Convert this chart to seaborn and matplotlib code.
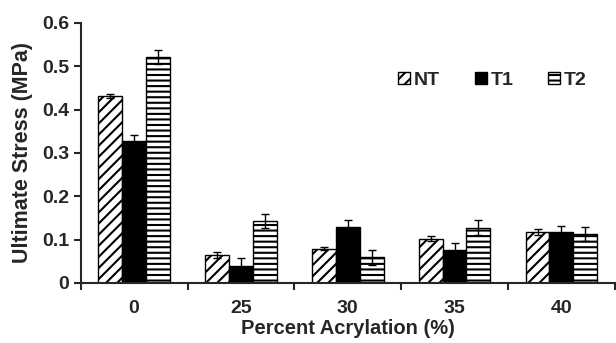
import numpy as np
import pandas as pd
import seaborn as sns
import matplotlib.pyplot as plt
from matplotlib.patches import Patch

# data
acrylation = ["0", "25", "30", "35", "40"]
groups = ["NT", "T1", "T2"]
nt = [0.432, 0.064, 0.079, 0.102, 0.117]
t1 = [0.327, 0.040, 0.130, 0.075, 0.117]
t2 = [0.522, 0.144, 0.059, 0.128, 0.114]
nt_err = [0.004, 0.007, 0.004, 0.006, 0.007]
t1_err = [0.015, 0.017, 0.015, 0.017, 0.015]
t2_err = [0.016, 0.016, 0.017, 0.017, 0.016]

df = pd.DataFrame({
    "acrylation": acrylation * 3,
    "group": ["NT"] * 5 + ["T1"] * 5 + ["T2"] * 5,
    "stress": nt + t1 + t2,
    "err": nt_err + t1_err + t2_err,
})

sns.set_style("ticks")
plt.rcParams["font.family"] = ["Liberation Sans", "DejaVu Sans"]
plt.rcParams["font.weight"] = "bold"
plt.rcParams["hatch.linewidth"] = 1.5

fig, ax = plt.subplots(figsize=(6.16, 3.43), dpi=100)
fig.subplots_adjust(left=0.131, right=0.998, bottom=0.175, top=0.933)

colors = {"NT": "white", "T1": "black", "T2": "white"}
sns.barplot(data=df, x="acrylation", y="stress", hue="group", hue_order=groups,
            palette=colors, edgecolor="black", linewidth=1.0, width=0.67,
            errorbar=None, legend=False, ax=ax)

hatches = {"NT": "///", "T1": "", "T2": "---"}
for cont, g in zip(ax.containers, groups):
    errs = df[df["group"] == g]["err"].values
    vals = df[df["group"] == g]["stress"].values
    xs = []
    for p in cont.patches:
        p.set_hatch(hatches[g])
        xs.append(p.get_x() + p.get_width() / 2)
    ax.errorbar(xs, vals, yerr=errs, fmt="none", ecolor="black",
                elinewidth=1.0, capsize=3, capthick=1.0)

ax.set_ylim(0, 0.6)
ax.set_xlim(-0.5, 4.5)
ax.set_yticks(np.arange(0, 0.61, 0.1))
ax.set_yticklabels(["0", "0.1", "0.2", "0.3", "0.4", "0.5", "0.6"])
ax.set_xticks(np.arange(-0.5, 5, 1.0), minor=True)
ax.tick_params(axis="x", which="major", length=0, labelsize=14, pad=12)
ax.tick_params(axis="x", which="minor", length=5, width=1.5, direction="out")
ax.tick_params(axis="y", length=5, width=1.5, labelsize=14)
for lab in ax.get_xticklabels() + ax.get_yticklabels():
    lab.set_fontweight("bold")
ax.spines["left"].set_linewidth(1.5)
ax.spines["bottom"].set_linewidth(1.5)
sns.despine(ax=ax)

ax.set_xlabel("Percent Acrylation (%)", fontsize=14.5, fontweight="bold", labelpad=2)
ax.set_ylabel("Ultimate Stress (MPa)", fontsize=15.5, fontweight="bold", labelpad=6)

handles = [Patch(facecolor=colors[g], edgecolor="black", hatch=hatches[g], label=g)
           for g in groups]
ax.legend(handles=handles, loc="upper right", bbox_to_anchor=(0.98, 0.88), ncol=3,
          frameon=False, handlelength=0.6, handleheight=0.6, handletextpad=0.2,
          columnspacing=1.8, prop={"weight": "bold", "size": 14})

fig.savefig("out.png", dpi=100)
